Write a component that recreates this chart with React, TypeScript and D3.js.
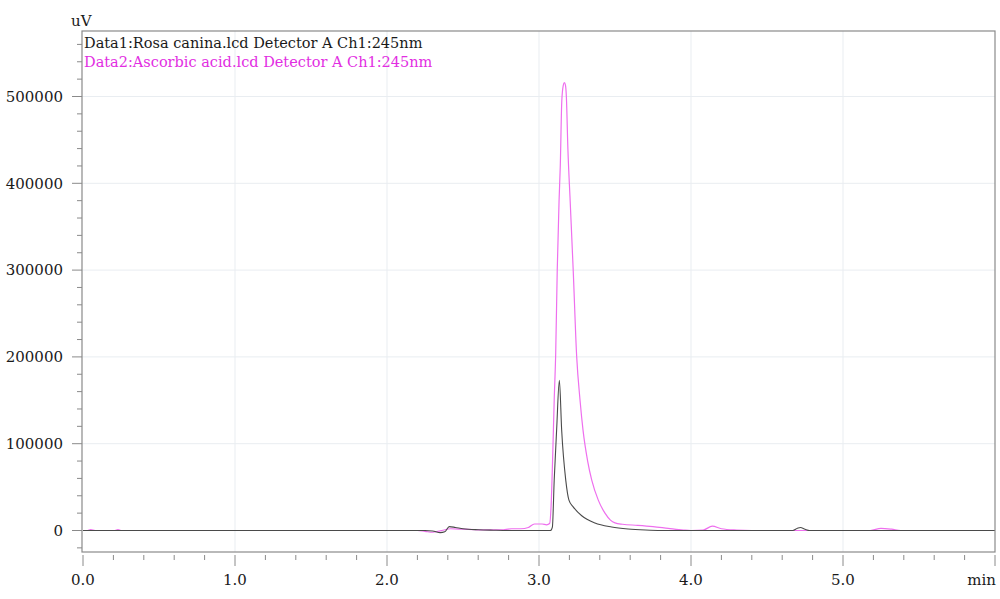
import React from "react";
import * as d3 from "d3";

const W = 1000;
const H = 599;

const SERIES_NAMES = [
  "Data1:Rosa canina.lcd Detector A Ch1:245nm",
  "Data2:Ascorbic acid.lcd Detector A Ch1:245nm",
];

const X_TICKS = [0, 1, 2, 3, 4, 5];
const X_MINOR = d3.range(0, 31).map((i) => i * 0.2);
const Y_TICKS = [0, 100000, 200000, 300000, 400000, 500000];
const Y_MINOR = d3.range(-1, 29).map((i) => i * 20000);

// Data1: Rosa canina (time in min, signal in uV)
const rosaTime = [0, 2.25, 2.3, 2.35, 2.38, 2.41, 2.45, 2.5, 2.6, 2.7, 2.8, 3.075, 3.088, 3.1, 3.116, 3.134, 3.149, 3.176, 3.197, 3.226, 3.281, 3.368, 3.478, 3.586, 3.7, 3.8, 4.67, 4.7, 4.72, 4.75, 4.78, 6.0];
const rosaValue = [0, 0, -500, -2500, -1500, 4500, 3500, 2000, 800, 300, 0, 0, 4000, 58000, 116000, 173000, 116000, 58000, 35000, 27000, 17000, 8600, 4000, 1700, 500, 0, 0, 2500, 3500, 1500, 0, 0];

// Data2: Ascorbic acid
const ascTime = [0, 0.03, 0.05, 0.08, 0.21, 0.23, 0.25, 2.2, 2.25, 2.3, 2.35, 2.42, 2.5, 2.6, 2.75, 2.82, 2.88, 2.93, 2.97, 3.02, 3.05, 3.07, 3.08, 3.09, 3.1, 3.11, 3.12, 3.132, 3.14, 3.15, 3.16, 3.167, 3.174, 3.18, 3.19, 3.205, 3.225, 3.248, 3.27, 3.29, 3.32, 3.347, 3.39, 3.434, 3.47, 3.5, 3.55, 3.65, 3.75, 3.85, 3.95, 4.0, 4.08, 4.14, 4.2, 4.3, 4.4, 5.18, 5.25, 5.32, 5.38, 6.0];
const ascValue = [0, 0, 900, 0, 0, 900, 0, 0, -1000, -2000, -500, 2000, 1500, 800, 700, 2000, 2000, 3500, 7500, 7500, 6500, 8000, 30000, 85000, 150000, 205000, 300000, 380000, 420000, 495000, 513000, 516000, 513000, 500000, 440000, 380000, 300000, 200000, 150000, 115000, 80000, 58000, 35000, 20000, 12000, 8800, 7200, 6000, 4500, 2500, 600, 0, 500, 5000, 2000, 500, 0, 0, 2500, 1500, 0, 0];

const FONT = "'DejaVu Serif', serif";
const AXIS_COLOR = "#8a8a8a";
const GRID_COLOR = "#e9edf1";
const PINK_TEXT = "#e22ee2";
const PINK_LINE = "#ee6fee";
const BLACK_LINE = "#4a4a4a";

export default function App() {
  const left = 82;
  const right = 995;
  const top = 31;
  const bottom = 552;

  const x = d3.scaleLinear().domain([0, 6]).range([83, 995]);
  const y = d3.scaleLinear().domain([0, 500000]).range([530.5, 96.5]);

  const line = d3
    .line<[number, number]>()
    .x((d) => x(d[0]))
    .y((d) => y(d[1]))
    .curve(d3.curveMonotoneX);

  const rosa = rosaTime.map((t, i) => [t, rosaValue[i]] as [number, number]);
  const asc = ascTime.map((t, i) => [t, ascValue[i]] as [number, number]);

  const yMinor = Y_MINOR.filter((v) => y(v) >= top && y(v) <= bottom && v % 100000 !== 0);

  return (
    <svg
      width={W}
      height={H}
      style={{ position: "absolute", left: 0, top: 0, background: "#fff" }}
      fontFamily={FONT}
    >
      <rect x={0} y={0} width={W} height={H} fill="#fff" />
      {/* grid */}
      {X_TICKS.filter((t) => t > 0).map((t) => (
        <line key={"gx" + t} x1={x(t)} x2={x(t)} y1={top} y2={bottom} stroke={GRID_COLOR} strokeWidth={1} />
      ))}
      {Y_TICKS.filter((v) => v > 0).map((v) => (
        <line key={"gy" + v} x1={left} x2={right} y1={y(v)} y2={y(v)} stroke={GRID_COLOR} strokeWidth={1} />
      ))}

      {/* data */}
      <path d={line(asc) || ""} fill="none" stroke={PINK_LINE} strokeWidth={1.2} />
      <path d={line(rosa) || ""} fill="none" stroke={BLACK_LINE} strokeWidth={1.1} />

      {/* box */}
      <rect x={left} y={top} width={right - left} height={bottom - top} fill="none" stroke={AXIS_COLOR} strokeWidth={1.2} />

      {/* y ticks */}
      {Y_TICKS.map((v) => (
        <g key={"yt" + v}>
          <line x1={72} x2={left} y1={y(v)} y2={y(v)} stroke={AXIS_COLOR} strokeWidth={1} />
          <text x={63} y={y(v)} dy="0.35em" textAnchor="end" fontSize={15} fill="#1a1a1a">
            {v}
          </text>
        </g>
      ))}
      {yMinor.map((v) => (
        <line key={"ym" + v} x1={77} x2={left} y1={y(v)} y2={y(v)} stroke={AXIS_COLOR} strokeWidth={1} />
      ))}

      {/* x ticks */}
      {X_MINOR.map((t) => {
        const major = Math.abs(t - Math.round(t)) < 1e-6;
        return (
          <line key={"xm" + t} x1={x(t)} x2={x(t)} y1={555} y2={major ? 566 : 560} stroke={AXIS_COLOR} strokeWidth={1} />
        );
      })}
      {X_TICKS.map((t) => (
        <text key={"xl" + t} x={x(t)} y={585} textAnchor="middle" fontSize={15} fill="#1a1a1a">
          {t.toFixed(1)}
        </text>
      ))}
      <text x={996} y={585} textAnchor="end" fontSize={15} fill="#1a1a1a">
        min
      </text>
      <text x={71} y={26} fontSize={15} fill="#1a1a1a">
        uV
      </text>

      {/* legend */}
      <text x={84} y={48} fontSize={14.5} fill="#1a1a1a">
        {SERIES_NAMES[0]}
      </text>
      <text x={84} y={67} fontSize={14.5} fill={PINK_TEXT}>
        {SERIES_NAMES[1]}
      </text>
    </svg>
  );
}
